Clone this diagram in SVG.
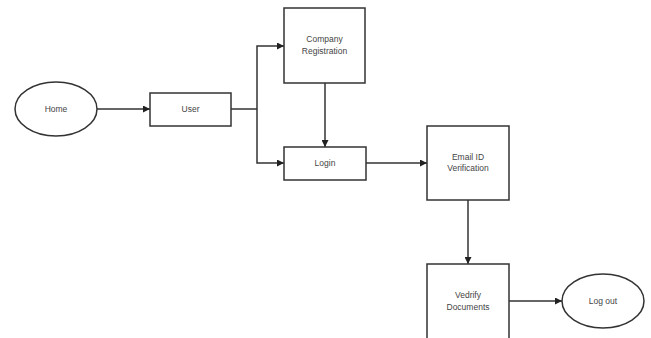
<svg xmlns="http://www.w3.org/2000/svg" width="651" height="338" viewBox="0 0 651 338">
<defs>
<marker id="ah" viewBox="0 0 10 10" refX="10" refY="5" markerWidth="7" markerHeight="7" orient="auto" markerUnits="userSpaceOnUse">
<path d="M0,0 L10,5 L0,10 z" fill="#222"/>
</marker>
<style>
.shape{fill:#fff;stroke:#333;stroke-width:1.5}
.lbl{font-family:"Liberation Sans",Arial,sans-serif;font-size:8.5px;fill:#444;text-anchor:middle}
.conn{fill:none;stroke:#333;stroke-width:1.5;marker-end:url(#ah)}
.line{fill:none;stroke:#333;stroke-width:1.5}
</style>
</defs>
<rect width="651" height="338" fill="#fff"/>
<g id="connectors">
<path class="conn" d="M97,109 H150"/>
<path class="line" d="M231,109 H257"/>
<path class="conn" d="M257,109 V46 H284"/>
<path class="conn" d="M257,109 V163 H284"/>
<path class="conn" d="M325,83 V147"/>
<path class="conn" d="M366,163 H427"/>
<path class="conn" d="M468,200 V264"/>
<path class="conn" d="M509,301 H562"/>
</g>
<g id="home"><ellipse class="shape" cx="56" cy="109" rx="41" ry="27"/><text class="lbl" x="56" y="112">Home</text></g>
<g id="user"><rect class="shape" x="150" y="93" width="81" height="33"/><text class="lbl" x="190.5" y="112">User</text></g>
<g id="company"><rect class="shape" x="284" y="8" width="81" height="75"/><text class="lbl" x="324.5" y="42">Company</text><text class="lbl" x="324.5" y="54">Registration</text></g>
<g id="login"><rect class="shape" x="284" y="147" width="82" height="33"/><text class="lbl" x="325" y="166">Login</text></g>
<g id="email"><rect class="shape" x="427" y="126" width="82" height="74"/><text class="lbl" x="468" y="160">Email ID</text><text class="lbl" x="468" y="171">Verification</text></g>
<g id="vedrify"><rect class="shape" x="427" y="264" width="82" height="80"/><text class="lbl" x="468" y="298">Vedrify</text><text class="lbl" x="468" y="310">Documents</text></g>
<g id="logout"><ellipse class="shape" cx="603" cy="301" rx="41" ry="27"/><text class="lbl" x="603" y="304">Log out</text></g>
</svg>
